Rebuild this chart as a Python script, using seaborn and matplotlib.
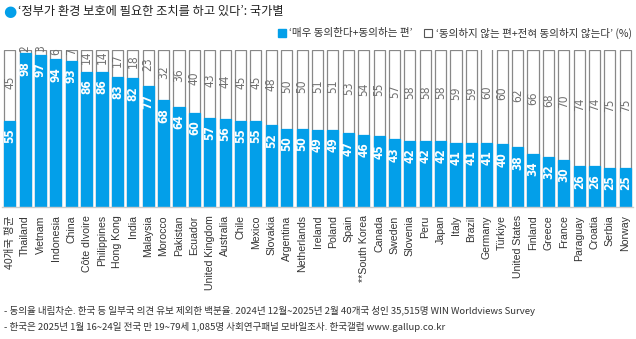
import matplotlib
matplotlib.use("Agg")
import matplotlib.pyplot as plt
import seaborn as sns
import pandas as pd
from matplotlib.patches import Patch

countries = ["40개국 평균", "Thailand", "Vietnam", "Indonesia", "China", "Côte dIvoire",
             "Philippines", "Hong Kong", "India", "Malaysia", "Morocco", "Pakistan",
             "Ecuador", "United Kingdom", "Australia", "Chile", "Mexico", "Slovakia",
             "Argentina", "Netherlands", "Ireland", "Poland", "Spain", "**South Korea",
             "Canada", "Sweden", "Slovenia", "Peru", "Japan", "Italy", "Brazil",
             "Germany", "Türkiye", "United States", "Finland", "Greece", "France",
             "Paraguay", "Croatia", "Serbia", "Norway"]
agree = [55, 98, 97, 94, 93, 86, 86, 83, 82, 77, 68, 64, 60, 57, 56, 55, 55, 52,
         50, 50, 49, 49, 47, 46, 45, 43, 42, 42, 42, 41, 41, 41, 40, 38, 34, 32,
         30, 26, 26, 25, 25]
disagree = [45, 2, 3, 6, 7, 14, 14, 17, 18, 23, 32, 36, 40, 43, 44, 45, 45, 48,
            50, 50, 51, 51, 53, 54, 55, 57, 58, 58, 58, 59, 59, 60, 60, 62, 66, 68,
            70, 74, 74, 75, 75]

title = "‘정부가 환경 보호에 필요한 조치를 하고 있다’: 국가별"
legend_labels = ["‘매우 동의한다+동의하는 편’", "‘동의하지 않는 편+전혀 동의하지 않는다’ (%)"]
notes = ["- 동의율 내림차순. 한국 등 일부국 의견 유보 제외한 백분율. 2024년 12월~2025년 2월 40개국 성인 35,515명 WIN Worldviews Survey",
         "- 한국은 2025년 1월 16~24일 전국 만 19~79세 1,085명 사회연구패널 모바일조사. 한국갤럽 www.gallup.co.kr"]

df = pd.DataFrame({"country": countries, "agree": agree, "disagree": disagree})
df["total"] = df["agree"] + df["disagree"]

sns.set_theme(style="white")
plt.rcParams['font.family'] = ['Liberation Sans', 'Noto Sans CJK KR', 'DejaVu Sans']

BLUE = "#039FE9"
EDGE = "#888888"

fig = plt.figure(figsize=(6.36, 3.39), dpi=100)
ax = fig.add_axes([2 / 636, 132 / 339, 631 / 636, 157 / 339])

sns.barplot(data=df, x="country", y="total", color="white", edgecolor=EDGE,
            linewidth=0.9, width=0.72, saturation=1, ax=ax)
sns.barplot(data=df, x="country", y="agree", color=BLUE, edgecolor=BLUE,
            linewidth=0.9, width=0.72, saturation=1, ax=ax)

ax.set_ylim(0, 100)
ax.set_xlim(-0.5, len(countries) - 0.5)
ax.set_xlabel("")
ax.set_ylabel("")
ax.set_yticks([])
for s in ["top", "left", "right"]:
    ax.spines[s].set_visible(False)
ax.spines["bottom"].set_color("#cccccc")
ax.spines["bottom"].set_linewidth(1.0)
ax.tick_params(axis="x", length=0, pad=6)
ax.set_xticks(range(len(countries)))
ax.set_xticklabels(countries, rotation=90, fontsize=7.6, color="#333333",
                   family=['Liberation Sans', 'Noto Sans CJK KR'])

for i, (a, d) in enumerate(zip(agree, disagree)):
    ax.annotate(str(a), xy=(i, a), xytext=(0, -5.5), textcoords="offset points",
                rotation=90, ha="center", va="top", color="white", fontsize=8.6,
                fontweight="bold", fontstretch="condensed", family="DejaVu Sans")
    ax.annotate(str(d), xy=(i, a + d / 2), xytext=(0, 2.5), textcoords="offset points",
                rotation=90, ha="center", va="center", color="#707070", fontsize=8.6,
                fontstretch="condensed", family="DejaVu Sans")

# title
fig.text(3 / 636, 1 - 12 / 339, "●", color=BLUE, fontsize=11, va="center", ha="left",
         family=['DejaVu Sans'])
fig.text(18 / 636, 1 - 12 / 339, title, color="#222222", fontsize=8.8, va="center",
         ha="left", family=['Noto Sans CJK KR', 'DejaVu Sans'])

# legend
handles = [Patch(facecolor=BLUE, edgecolor=BLUE),
           Patch(facecolor="white", edgecolor="#555555", linewidth=0.8)]
leg = fig.legend(handles, legend_labels, loc="center right", ncol=2,
                 bbox_to_anchor=(1 - 4 / 636, 1 - 33 / 339), frameon=False,
                 prop={"family": ['Noto Sans CJK KR', 'DejaVu Sans'], "size": 7.6},
                 handlelength=0.75, handleheight=0.75, handletextpad=0.35,
                 columnspacing=1.1, borderpad=0, borderaxespad=0)
for t in leg.get_texts():
    t.set_color("#333333")

# notes
for k, note in enumerate(notes):
    fig.text(4 / 636, 1 - (311 + 16 * k) / 339, note, color="#333333", fontsize=6.9,
             va="center", ha="left", family=['Noto Sans CJK KR', 'DejaVu Sans'])

fig.savefig("out.png", dpi=100)
